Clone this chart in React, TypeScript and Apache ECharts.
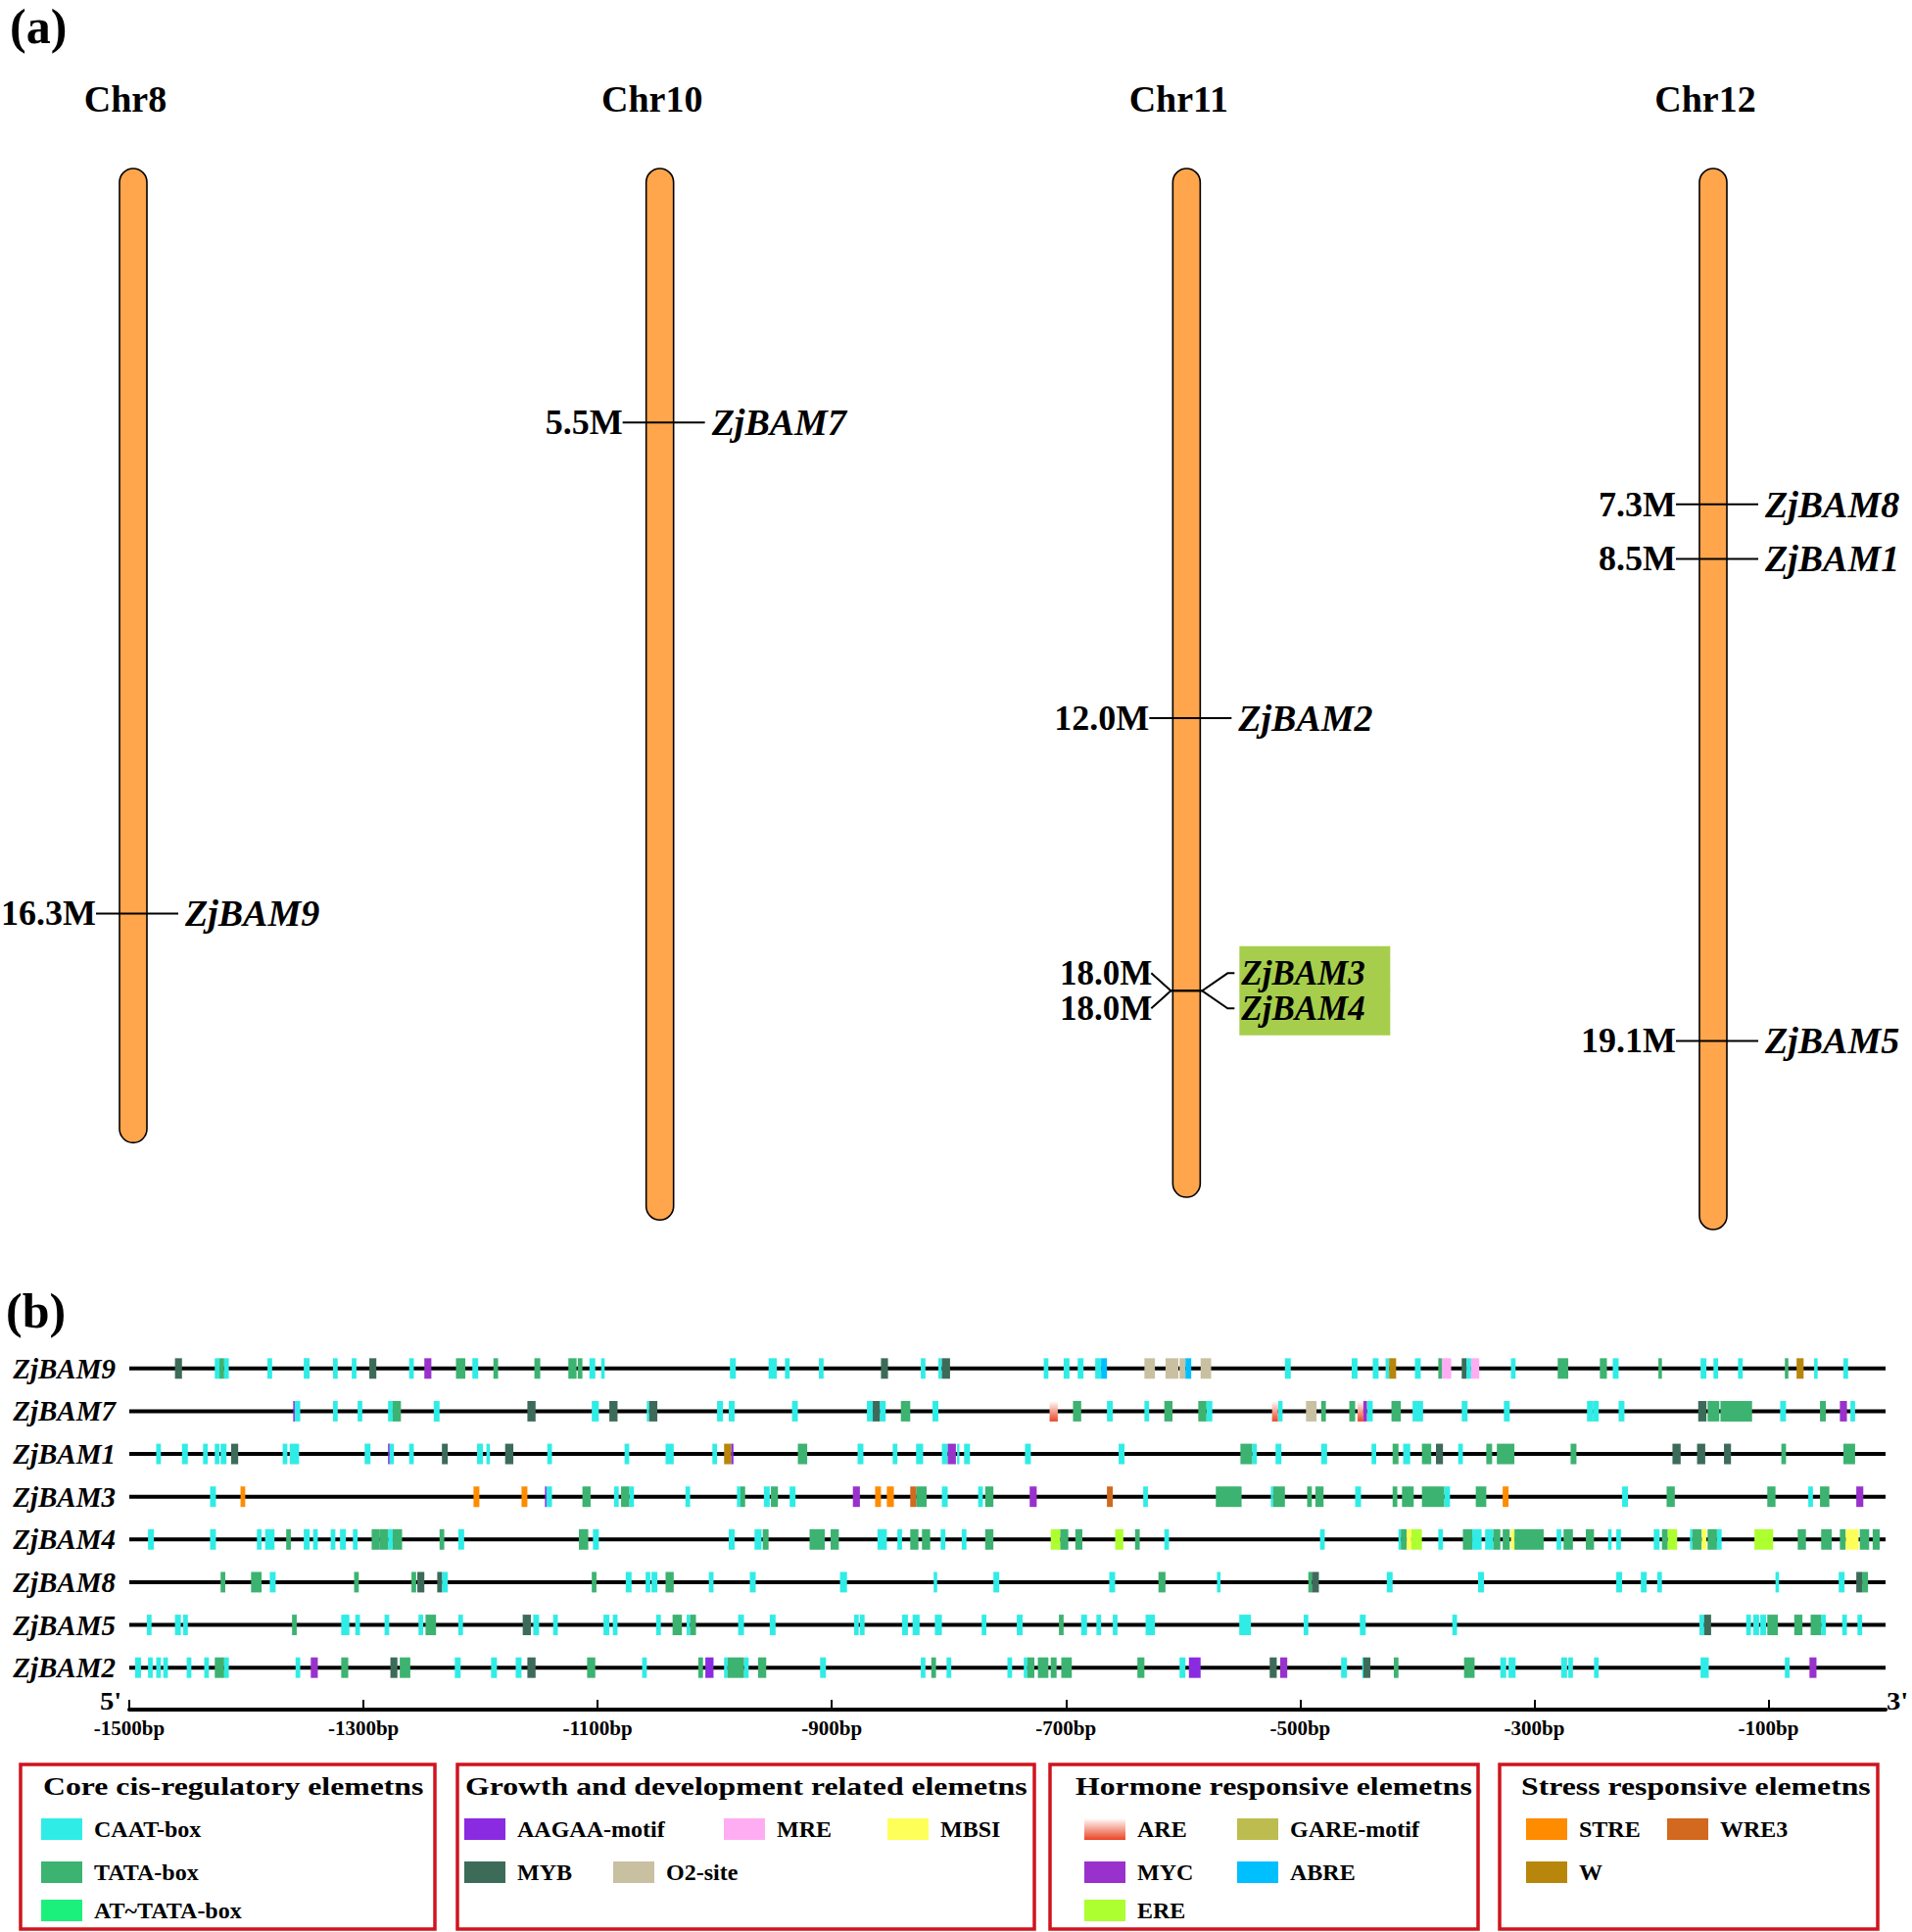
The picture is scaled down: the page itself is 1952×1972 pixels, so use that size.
import React, { useEffect, useRef } from 'react';
import * as echarts from 'echarts';

const FONT = '"Liberation Serif", "Times New Roman", serif';

// ---------- (a) chromosome map ----------
const CHROMOSOMES = ['Chr8', 'Chr10', 'Chr11', 'Chr12'];
const CHR_LENGTHS = [21.34, 23.04, 22.54, 23.25]; // Mb
const GENE_NAMES = ['ZjBAM9', 'ZjBAM7', 'ZjBAM2', 'ZjBAM3', 'ZjBAM4', 'ZjBAM8', 'ZjBAM1', 'ZjBAM5'];
const GENE_CHR = [0, 1, 2, 2, 2, 3, 3, 3];
const GENE_POS = [16.3, 5.5, 12.0, 18.0, 18.0, 7.3, 8.5, 19.1]; // Mb
const HIGHLIGHT = ['ZjBAM3', 'ZjBAM4'];

// ---------- (b) promoter cis-elements ----------
const PROMOTER_START = -1500;
const PROMOTER_END = 0;
const TICKS = [-1500, -1300, -1100, -900, -700, -500, -300, -100];
const GENE_ORDER = ['ZjBAM9', 'ZjBAM7', 'ZjBAM1', 'ZjBAM3', 'ZjBAM4', 'ZjBAM8', 'ZjBAM5', 'ZjBAM2'];

const ELEMENT_TYPES = [
  'CAAT-box', 'TATA-box', 'AT~TATA-box',
  'AAGAA-motif', 'MRE', 'MBSI', 'MYB', 'O2-site',
  'ARE', 'GARE-motif', 'MYC', 'ABRE', 'ERE',
  'STRE', 'WRE3', 'W',
];
const CODE: Record<string, string> = {
  C: 'CAAT-box', T: 'TATA-box', AT: 'AT~TATA-box', AA: 'AAGAA-motif', MRE: 'MRE', MBSI: 'MBSI',
  MYB: 'MYB', O2: 'O2-site', ARE: 'ARE', GARE: 'GARE-motif', MYC: 'MYC', ABRE: 'ABRE', ERE: 'ERE',
  STRE: 'STRE', WRE3: 'WRE3', W: 'W',
};

// [start bp, end bp, element code]
const ZjBAM9: [number, number, string][] = [
  [-1461, -1455, 'MYB'], [-1427, -1423, 'C'], [-1423, -1419, 'T'], [-1419, -1415, 'C'], [-1382, -1378, 'C'], [-1351, -1346, 'C'], [-1326, -1322, 'C'], [-1310, -1306, 'C'], [-1295, -1289, 'MYB'], [-1261, -1257, 'C'], [-1248, -1242, 'MYC'], [-1221, -1213, 'T'], [-1207, -1202, 'C'],
  [-1189, -1185, 'T'], [-1154, -1149, 'T'], [-1125, -1118, 'T'], [-1117, -1113, 'T'], [-1107, -1102, 'C'], [-1097, -1094, 'C'], [-987, -982, 'C'], [-954, -947, 'C'], [-940, -936, 'C'], [-911, -907, 'C'], [-858, -852, 'MYB'], [-824, -820, 'C'], [-809, -806, 'C'], [-806, -799, 'MYB'],
  [-719, -715, 'C'], [-702, -697, 'C'], [-690, -685, 'C'], [-675, -670, 'C'], [-670, -665, 'ABRE'], [-633, -624, 'O2'], [-615, -604, 'O2'], [-603, -598, 'O2'], [-598, -593, 'ABRE'], [-585, -576, 'O2'], [-513, -508, 'C'], [-456, -451, 'C'], [-438, -433, 'C'], [-427, -424, 'C'], [-424, -418, 'W'], [-402, -397, 'C'],
  [-382, -379, 'T'], [-379, -371, 'MRE'], [-362, -358, 'MYB'], [-358, -354, 'C'], [-354, -347, 'MRE'], [-320, -316, 'C'], [-280, -271, 'T'], [-244, -238, 'T'], [-233, -228, 'C'], [-194, -191, 'T'], [-158, -153, 'C'], [-147, -143, 'C'], [-126, -122, 'C'], [-86, -83, 'T'], [-76, -70, 'W'], [-61, -58, 'C'], [-36, -32, 'C'],
];
const ZjBAM7: [number, number, string][] = [
  [-1360, -1359, 'AA'], [-1359, -1354, 'C'], [-1326, -1322, 'C'], [-1305, -1301, 'C'], [-1279, -1275, 'C'], [-1275, -1268, 'T'], [-1240, -1235, 'C'],
  [-1160, -1153, 'MYB'], [-1105, -1099, 'C'], [-1090, -1083, 'MYB'], [-1058, -1056, 'C'], [-1056, -1049, 'MYB'], [-998, -993, 'C'], [-988, -983, 'C'], [-934, -929, 'C'], [-870, -865, 'C'], [-865, -859, 'MYB'], [-859, -854, 'C'], [-841, -833, 'T'], [-814, -809, 'C'],
  [-714, -707, 'ARE'], [-694, -687, 'T'], [-665, -660, 'C'], [-633, -629, 'C'], [-616, -609, 'T'], [-587, -580, 'T'], [-580, -575, 'C'], [-524, -519, 'ARE'], [-519, -515, 'C'], [-495, -486, 'O2'], [-482, -478, 'T'], [-458, -453, 'T'], [-451, -446, 'ARE'], [-446, -443, 'MYC'], [-443, -438, 'C'], [-422, -414, 'T'], [-404, -395, 'C'],
  [-362, -357, 'C'], [-326, -321, 'C'], [-255, -250, 'C'], [-250, -245, 'C'], [-228, -223, 'C'], [-160, -153, 'MYB'], [-152, -142, 'T'], [-141, -114, 'T'], [-90, -85, 'C'], [-56, -51, 'T'], [-39, -33, 'MYC'], [-30, -26, 'C'],
];
const ZjBAM1: [number, number, string][] = [
  [-1477, -1473, 'C'], [-1455, -1450, 'C'], [-1437, -1433, 'C'], [-1427, -1423, 'C'], [-1422, -1417, 'C'], [-1413, -1407, 'MYB'], [-1369, -1365, 'C'], [-1363, -1355, 'C'], [-1299, -1294, 'C'], [-1279, -1278, 'AA'], [-1278, -1274, 'C'], [-1261, -1257, 'C'], [-1233, -1228, 'MYB'], [-1203, -1198, 'C'], [-1195, -1192, 'C'],
  [-1179, -1172, 'MYB'], [-1143, -1139, 'C'], [-1077, -1073, 'C'], [-1042, -1035, 'C'], [-1002, -998, 'C'], [-992, -986, 'W'], [-986, -984, 'AA'], [-929, -921, 'T'], [-878, -873, 'C'], [-848, -844, 'C'], [-828, -822, 'C'], [-806, -801, 'C'], [-801, -794, 'MYC'], [-793, -791, 'C'],
  [-787, -782, 'C'], [-735, -730, 'C'], [-655, -650, 'C'], [-551, -541, 'T'], [-541, -537, 'C'], [-521, -516, 'C'], [-482, -477, 'C'], [-439, -435, 'C'], [-421, -416, 'T'], [-412, -406, 'C'], [-396, -388, 'T'],
  [-384, -378, 'MYB'], [-365, -361, 'C'], [-341, -336, 'T'], [-332, -317, 'T'], [-269, -264, 'T'], [-182, -175, 'MYB'], [-161, -154, 'MYB'], [-138, -132, 'MYB'], [-89, -85, 'T'], [-36, -26, 'T'],
];
const ZjBAM3: [number, number, string][] = [
  [-1431, -1426, 'C'], [-1405, -1401, 'STRE'], [-1206, -1201, 'STRE'],
  [-1165, -1160, 'STRE'], [-1145, -1144, 'AA'], [-1144, -1139, 'C'], [-1113, -1106, 'T'], [-1086, -1082, 'C'], [-1080, -1073, 'T'], [-1073, -1069, 'C'], [-1025, -1021, 'C'], [-981, -978, 'C'], [-978, -974, 'T'], [-958, -953, 'C'], [-952, -946, 'T'], [-936, -931, 'C'], [-882, -876, 'MYC'], [-863, -858, 'STRE'], [-853, -847, 'STRE'], [-833, -828, 'WRE3'], [-828, -819, 'T'], [-806, -801, 'C'],
  [-775, -771, 'C'], [-769, -762, 'T'], [-731, -725, 'MYC'], [-665, -660, 'WRE3'], [-634, -630, 'C'], [-572, -550, 'T'], [-525, -523, 'C'], [-523, -513, 'T'], [-494, -490, 'T'], [-487, -480, 'T'], [-453, -448, 'C'], [-421, -417, 'T'], [-413, -403, 'T'], [-396, -377, 'T'],
  [-377, -372, 'C'], [-350, -341, 'T'], [-327, -322, 'STRE'], [-225, -220, 'C'], [-187, -180, 'T'], [-101, -94, 'T'], [-66, -62, 'C'], [-56, -48, 'T'], [-25, -19, 'MYC'],
];
const ZjBAM4: [number, number, string][] = [
  [-1484, -1479, 'C'], [-1431, -1426, 'C'], [-1391, -1387, 'C'], [-1384, -1376, 'C'], [-1366, -1362, 'T'], [-1351, -1346, 'C'], [-1343, -1339, 'C'], [-1328, -1324, 'C'], [-1320, -1315, 'C'], [-1309, -1305, 'C'], [-1293, -1286, 'T'], [-1286, -1279, 'T'], [-1279, -1275, 'C'], [-1275, -1267, 'T'], [-1235, -1231, 'T'], [-1219, -1214, 'C'],
  [-1116, -1108, 'T'], [-1104, -1099, 'C'], [-988, -983, 'C'], [-966, -960, 'C'], [-959, -954, 'T'], [-919, -906, 'T'], [-901, -894, 'T'], [-861, -853, 'C'], [-844, -840, 'C'], [-833, -826, 'T'], [-823, -816, 'T'], [-807, -803, 'C'],
  [-789, -785, 'C'], [-769, -762, 'T'], [-713, -705, 'ERE'], [-705, -698, 'T'], [-692, -686, 'T'], [-658, -651, 'ERE'], [-641, -637, 'T'], [-616, -612, 'C'], [-483, -479, 'C'], [-416, -414, 'C'], [-414, -409, 'T'], [-409, -405, 'MBSI'], [-405, -396, 'ERE'],
  [-382, -378, 'C'], [-361, -353, 'T'], [-353, -345, 'C'], [-342, -335, 'C'], [-335, -329, 'T'], [-327, -321, 'T'], [-320, -317, 'MBSI'], [-317, -292, 'T'], [-281, -277, 'C'], [-275, -267, 'T'], [-256, -249, 'T'], [-237, -234, 'C'], [-230, -226, 'C'], [-198, -193, 'C'], [-191, -186, 'T'], [-186, -178, 'ERE'], [-167, -165, 'C'], [-165, -157, 'T'], [-157, -153, 'MBSI'], [-152, -144, 'T'], [-144, -140, 'C'], [-112, -96, 'ERE'], [-75, -68, 'T'], [-55, -46, 'T'], [-39, -34, 'T'], [-34, -23, 'MBSI'], [-22, -14, 'T'], [-11, -5, 'T'],
];
const ZjBAM8: [number, number, string][] = [
  [-1422, -1418, 'T'], [-1396, -1387, 'T'], [-1380, -1375, 'C'], [-1308, -1304, 'T'], [-1259, -1255, 'T'], [-1254, -1248, 'MYB'], [-1237, -1233, 'MYB'], [-1233, -1228, 'C'],
  [-1105, -1101, 'T'], [-1076, -1071, 'C'], [-1059, -1055, 'C'], [-1054, -1049, 'C'], [-1042, -1035, 'T'], [-1005, -1001, 'C'], [-970, -965, 'C'], [-893, -887, 'C'], [-813, -810, 'C'],
  [-762, -757, 'C'], [-663, -658, 'C'], [-621, -615, 'T'], [-571, -568, 'C'], [-493, -490, 'T'], [-490, -484, 'MYB'], [-426, -421, 'C'],
  [-348, -343, 'C'], [-230, -225, 'C'], [-209, -204, 'C'], [-195, -191, 'C'], [-94, -91, 'C'], [-40, -35, 'C'], [-25, -20, 'MYB'], [-20, -15, 'T'],
];
const ZjBAM5: [number, number, string][] = [
  [-1485, -1481, 'C'], [-1461, -1456, 'C'], [-1454, -1450, 'C'], [-1361, -1357, 'T'], [-1319, -1312, 'C'], [-1307, -1303, 'C'], [-1282, -1278, 'C'], [-1253, -1249, 'C'], [-1247, -1238, 'T'], [-1219, -1215, 'C'],
  [-1164, -1157, 'MYB'], [-1155, -1150, 'C'], [-1138, -1134, 'C'], [-1095, -1090, 'C'], [-1087, -1083, 'C'], [-1050, -1046, 'C'], [-1036, -1028, 'T'], [-1024, -1021, 'C'], [-1021, -1016, 'T'], [-980, -975, 'C'], [-953, -948, 'C'], [-881, -877, 'C'], [-876, -872, 'C'], [-840, -835, 'C'], [-831, -825, 'C'], [-812, -806, 'C'],
  [-772, -768, 'C'], [-742, -737, 'C'], [-706, -702, 'T'], [-687, -682, 'C'], [-674, -670, 'C'], [-660, -656, 'C'], [-632, -624, 'C'], [-552, -542, 'C'], [-497, -493, 'C'], [-449, -444, 'C'],
  [-370, -366, 'C'], [-159, -155, 'C'], [-155, -149, 'MYB'], [-119, -115, 'C'], [-113, -108, 'C'], [-107, -102, 'C'], [-101, -92, 'T'], [-78, -71, 'T'], [-64, -55, 'T'], [-55, -51, 'C'], [-37, -33, 'C'], [-24, -20, 'C'],
];
const ZjBAM2: [number, number, string][] = [
  [-1495, -1490, 'C'], [-1484, -1480, 'C'], [-1477, -1473, 'C'], [-1471, -1467, 'C'], [-1451, -1447, 'C'], [-1436, -1432, 'C'], [-1427, -1419, 'T'], [-1419, -1415, 'C'], [-1358, -1354, 'C'], [-1345, -1339, 'MYC'], [-1319, -1313, 'T'], [-1277, -1271, 'MYB'], [-1269, -1260, 'T'], [-1222, -1217, 'C'],
  [-1191, -1186, 'C'], [-1170, -1165, 'C'], [-1160, -1153, 'MYB'], [-1109, -1102, 'T'], [-1062, -1058, 'C'], [-1014, -1010, 'T'], [-1008, -1001, 'AA'], [-992, -989, 'C'], [-989, -975, 'T'], [-975, -971, 'C'], [-963, -956, 'T'], [-910, -905, 'C'], [-824, -820, 'C'], [-815, -811, 'T'], [-802, -798, 'C'],
  [-750, -746, 'C'], [-736, -733, 'C'], [-733, -727, 'T'], [-724, -715, 'T'], [-713, -708, 'T'], [-704, -695, 'T'], [-639, -633, 'T'], [-603, -598, 'C'], [-595, -585, 'AA'], [-526, -520, 'MYB'], [-517, -511, 'MYC'], [-465, -460, 'C'], [-447, -446, 'C'], [-446, -440, 'MYB'], [-420, -416, 'T'],
  [-360, -351, 'T'], [-329, -324, 'C'], [-322, -316, 'C'], [-277, -272, 'C'], [-271, -267, 'C'], [-249, -245, 'C'], [-158, -151, 'C'], [-86, -82, 'C'], [-65, -59, 'MYC'],
];
const GENE_ELEMENTS: Record<string, [number, number, string][]> = {
  ZjBAM9, ZjBAM7, ZjBAM1, ZjBAM3, ZjBAM4, ZjBAM8, ZjBAM5, ZjBAM2,
};

const LEGEND_GROUPS = [
  'Core cis-regulatory elemetns',
  'Growth and development related elemetns',
  'Hormone responsive elemetns',
  'Stress responsive elemetns',
];

// ---------- styles / layout ----------
const ARE_FILL = new echarts.graphic.LinearGradient(0, 0, 0, 1, [
  { offset: 0, color: '#FFFFFF' },
  { offset: 1, color: '#EA4424' },
]);
const TYPE_COLORS: Record<string, any> = {
  'CAAT-box': '#2FEDE6', 'TATA-box': '#3CB371', 'AT~TATA-box': '#1CF07C',
  'AAGAA-motif': '#8A2BE2', MRE: '#FFADF3', MBSI: '#FFFF5A', MYB: '#3D6B5A', 'O2-site': '#C8C0A0',
  ARE: ARE_FILL, 'GARE-motif': '#BDBD4F', MYC: '#9932CC', ABRE: '#00BFFF', ERE: '#ADFF2F',
  STRE: '#FF8C00', WRE3: '#D2691E', W: '#B8860B',
};
const LEGEND_POS: Record<string, [number, number]> = {
  'CAAT-box': [42, 1867], 'TATA-box': [42, 1911], 'AT~TATA-box': [42, 1950],
  'AAGAA-motif': [474, 1867], MRE: [739, 1867], MBSI: [906, 1867], MYB: [474, 1911], 'O2-site': [626, 1911],
  ARE: [1107, 1867], 'GARE-motif': [1263, 1867], MYC: [1107, 1911], ABRE: [1263, 1911], ERE: [1107, 1950],
  STRE: [1558, 1867], WRE3: [1702, 1867], W: [1558, 1911],
};
const LEGEND_BOXES = [
  [21, 1801, 423, 168], [467, 1801, 589, 168], [1072, 1801, 437, 168], [1531, 1801, 386, 168],
];
const LEGEND_TITLE_X = [44, 475, 1098, 1553];
const ORANGE = '#FFA54C';

const PAIR_INFO = GENE_NAMES.map((_, k) => {
  const same = GENE_NAMES.map((__, j) => j).filter(
    (j) => GENE_CHR[j] === GENE_CHR[k] && GENE_POS[j] === GENE_POS[k],
  );
  return { idx: same.indexOf(k), count: same.length };
});

function textEl(text: string, x: number, y: number, opts: any = {}) {
  return {
    type: 'text',
    style: {
      text, x, y,
      fill: '#000',
      fontFamily: FONT,
      fontWeight: 'bold',
      fontSize: opts.fontSize || 38,
      fontStyle: opts.italic ? 'italic' : 'normal',
      align: opts.align || 'left',
      verticalAlign: 'middle',
    },
  };
}

function buildOption() {
  const chrSeries = {
    type: 'custom',
    xAxisIndex: 0,
    yAxisIndex: 0,
    silent: true,
    z: 2,
    encode: { x: 0, y: 1 },
    data: CHROMOSOMES.map((_, i) => [i, CHR_LENGTHS[i]]),
    renderItem: (params: any, api: any) => {
      const i = api.value(0);
      const top = api.coord([i, 0]);
      const bot = api.coord([i, api.value(1)]);
      return {
        type: 'group',
        children: [
          {
            type: 'rect',
            shape: { x: top[0] - 14, y: top[1] - 4, width: 28, height: bot[1] - top[1] + 4, r: 14 },
            style: { fill: ORANGE, stroke: '#000', lineWidth: 1.6 },
          },
          textEl(CHROMOSOMES[i], top[0] - 8, top[1] - 75, { align: 'center', fontSize: 38 }),
        ],
      };
    },
  };

  const labelOffset = (k: number) => {
    const { idx, count } = PAIR_INFO[k];
    return count > 1 ? (idx - (count - 1) / 2) * 36 : 0;
  };

  const highlightSeries = {
    type: 'custom',
    xAxisIndex: 0,
    yAxisIndex: 0,
    silent: true,
    z: 3,
    encode: { x: 0, y: 1 },
    data: GENE_NAMES.map((g, k) => [GENE_CHR[k], GENE_POS[k], k]).filter((d) =>
      HIGHLIGHT.includes(GENE_NAMES[d[2]]),
    ),
    renderItem: (params: any, api: any) => {
      const k = api.value(2);
      const p = api.coord([api.value(0), api.value(1)]);
      const d = labelOffset(k);
      const y0 = d < 0 ? p[1] - 45.5 : d > 0 ? p[1] - 0.5 : p[1] - 28;
      const h = d === 0 ? 56 : 46;
      return {
        type: 'rect',
        shape: { x: p[0] + 54, y: y0, width: 154, height: h },
        style: { fill: '#A6CE4C' },
      };
    },
  };

  const geneSeries = {
    type: 'custom',
    xAxisIndex: 0,
    yAxisIndex: 0,
    silent: true,
    z: 4,
    encode: { x: 0, y: 1 },
    data: GENE_NAMES.map((g, k) => [GENE_CHR[k], GENE_POS[k], k]),
    renderItem: (params: any, api: any) => {
      const k = api.value(2);
      const p = api.coord([api.value(0), api.value(1)]);
      const cx = p[0];
      const y = p[1];
      const d = labelOffset(k);
      const posText = `${GENE_POS[k].toFixed(1)}M`;
      if (d === 0) {
        return {
          type: 'group',
          children: [
            {
              type: 'line',
              shape: { x1: cx - 38, y1: y, x2: cx + 46, y2: y },
              style: { stroke: '#000', lineWidth: 2 },
            },
            textEl(posText, cx - 38, y, { align: 'right', fontSize: 36 }),
            textEl(GENE_NAMES[k], cx + 53, y, { italic: true, fontSize: 38 }),
          ],
        };
      }
      return {
        type: 'group',
        children: [
          {
            type: 'polyline',
            shape: {
              points: [
                [cx - 36, y + d], [cx - 16, y], [cx + 16, y], [cx + 42, y + d], [cx + 49, y + d],
              ],
            },
            style: { stroke: '#000', lineWidth: 2, fill: null },
          },
          textEl(posText, cx - 35, y + d, { align: 'right', fontSize: 35 }),
          textEl(GENE_NAMES[k], cx + 56, y + d, { italic: true, fontSize: 35 }),
        ],
      };
    },
  };

  const backboneSeries = {
    type: 'custom',
    xAxisIndex: 1,
    yAxisIndex: 1,
    silent: true,
    z: 2,
    encode: { x: [0, 1], y: 2 },
    data: GENE_ORDER.map((g, i) => [PROMOTER_START, PROMOTER_END, i]),
    renderItem: (params: any, api: any) => {
      const a = api.coord([api.value(0), api.value(2)]);
      const b = api.coord([api.value(1), api.value(2)]);
      return {
        type: 'line',
        shape: { x1: a[0], y1: a[1], x2: b[0], y2: b[1] },
        style: { stroke: '#000', lineWidth: 4 },
      };
    },
  };

  const elementSeries = ELEMENT_TYPES.map((type) => {
    const data: number[][] = [];
    GENE_ORDER.forEach((g, row) => {
      GENE_ELEMENTS[g].forEach((el) => {
        if (CODE[el[2]] === type) data.push([el[0], el[1], row]);
      });
    });
    const color = TYPE_COLORS[type];
    return {
      type: 'custom',
      name: type,
      xAxisIndex: 1,
      yAxisIndex: 1,
      silent: true,
      z: 3,
      itemStyle: { color },
      encode: { x: [0, 1], y: 2 },
      data,
      renderItem: (params: any, api: any) => {
        const a = api.coord([api.value(0), api.value(2)]);
        const b = api.coord([api.value(1), api.value(2)]);
        const h = api.size([0, 1])[1] * 0.48;
        return {
          type: 'rect',
          shape: { x: a[0], y: a[1] - h / 2, width: Math.max(b[0] - a[0], 1.5), height: h },
          style: { fill: color },
        };
      },
    };
  });

  const legends = ELEMENT_TYPES.map((type) => ({
    data: [type],
    left: LEGEND_POS[type][0],
    top: LEGEND_POS[type][1] - 12,
    orient: 'horizontal',
    icon: 'rect',
    itemWidth: 42,
    itemHeight: 22,
    padding: 0,
    selectedMode: false,
    textStyle: {
      fontFamily: FONT,
      fontWeight: 'bold',
      fontSize: 24,
      color: '#000',
      padding: [0, 0, 0, 7],
    },
  }));

  const graphic: any[] = [
    {
      type: 'text', x: 10, y: 27,
      style: { text: '(a)', fontFamily: FONT, fontWeight: 'bold', fontSize: 50, fill: '#000', align: 'left', verticalAlign: 'middle' },
    },
    {
      type: 'text', x: 6, y: 1338,
      style: { text: '(b)', fontFamily: FONT, fontWeight: 'bold', fontSize: 50, fill: '#000', align: 'left', verticalAlign: 'middle' },
    },
    {
      type: 'text', x: 102, y: 1737, scaleX: 1.15,
      style: { text: "5'", fontFamily: FONT, fontWeight: 'bold', fontSize: 25, fill: '#000', align: 'left', verticalAlign: 'middle' },
    },
    {
      type: 'text', x: 1926, y: 1737, scaleX: 1.15,
      style: { text: "3'", fontFamily: FONT, fontWeight: 'bold', fontSize: 25, fill: '#000', align: 'left', verticalAlign: 'middle' },
    },
  ];
  LEGEND_BOXES.forEach((b, i) => {
    graphic.push({
      type: 'rect',
      shape: { x: b[0], y: b[1], width: b[2], height: b[3] },
      style: { fill: 'none', stroke: '#D0141E', lineWidth: 3.5 },
    });
    graphic.push({
      type: 'text', x: LEGEND_TITLE_X[i], y: 1824, scaleX: 1.27,
      style: { text: LEGEND_GROUPS[i], fontFamily: FONT, fontWeight: 'bold', fontSize: 25, fill: '#000', align: 'left', verticalAlign: 'middle' },
    });
  });

  return {
    animation: false,
    backgroundColor: '#fff',
    textStyle: { fontFamily: FONT },
    grid: [
      { left: 136, width: 1613, top: 176, height: 1079, outerBoundsMode: 'none' },
      { left: 132, width: 1793, top: 1375, height: 349, outerBoundsMode: 'none' },
    ],
    xAxis: [
      { type: 'value', gridIndex: 0, min: 0, max: CHROMOSOMES.length - 1, show: false },
      {
        type: 'value', gridIndex: 1, min: PROMOTER_START, max: PROMOTER_END, offset: 21,
        axisLine: { show: true, onZero: false, lineStyle: { color: '#000', width: 4 } },
        axisTick: { show: true, inside: true, length: 10, customValues: TICKS, lineStyle: { color: '#000', width: 2 } },
        axisLabel: {
          customValues: TICKS, formatter: (v: number) => `${v}bp`,
          fontFamily: FONT, fontSize: 21, fontWeight: 'bold', color: '#000', margin: 8,
        },
        splitLine: { show: false },
      },
    ],
    yAxis: [
      { type: 'value', gridIndex: 0, min: 0, max: Math.max(...CHR_LENGTHS), inverse: true, show: false },
      {
        type: 'category', gridIndex: 1, data: GENE_ORDER, inverse: true,
        axisLine: { show: false }, axisTick: { show: false }, splitLine: { show: false },
        axisLabel: { fontFamily: FONT, fontSize: 29, fontWeight: 'bold', fontStyle: 'italic', color: '#000', margin: 14 },
      },
    ],
    legend: legends,
    graphic,
    series: [chrSeries, highlightSeries, geneSeries, backboneSeries, ...elementSeries],
  };
}

export default function App() {
  const ref = useRef<HTMLDivElement>(null);
  useEffect(() => {
    if (!ref.current) return;
    const chart = echarts.init(ref.current, null, { renderer: 'svg' });
    chart.setOption(buildOption() as any);
    return () => chart.dispose();
  }, []);
  return (
    <div
      ref={ref}
      style={{ position: 'absolute', left: 0, top: 0, width: 1952, height: 1972, background: '#fff' }}
    />
  );
}
